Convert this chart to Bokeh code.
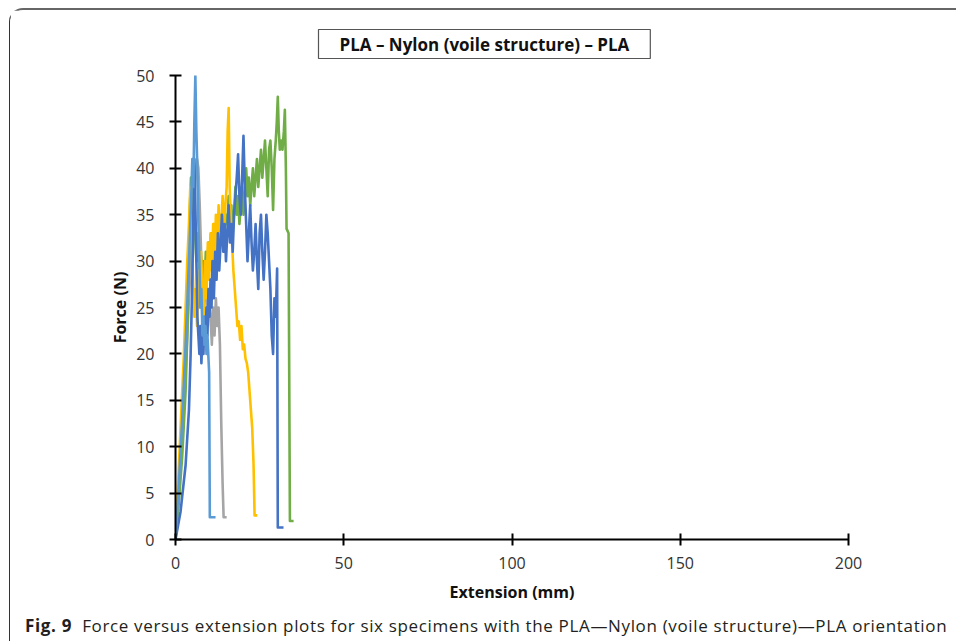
from bokeh.plotting import figure
from bokeh.models import Range1d, Div, FixedTicker
from bokeh.layouts import column
from bokeh.embed import file_html
from bokeh.resources import INLINE

title_text = "PLA \u2013 Nylon (voile structure) \u2013 PLA"
x_label = "Extension (mm)"
y_label = "Force (N)"
x_ticks = [0, 50, 100, 150, 200]
y_ticks = [0, 5, 10, 15, 20, 25, 30, 35, 40, 45, 50]

# Specimen 1 (light blue)
s1_x = [0, 1, 2, 3, 4, 4.6, 5.0, 5.3, 5.6, 5.9, 6.2, 6.5, 6.8, 7.1, 7.4, 7.7, 8.0, 8.3, 8.6, 8.9, 9.2, 9.5, 9.8, 10.0, 10.2, 11.9]
s1_y = [0, 6, 13, 21, 30, 36, 41, 38, 45, 50, 44, 40, 34, 30, 25, 27, 22, 24, 21, 23, 20, 22, 19.5, 18, 2.4, 2.4]

# Specimen 2 (gray)
s2_x = [0, 1, 2, 3, 4, 5, 5.6, 6.0, 6.4, 6.8, 7.2, 7.6, 8.0, 8.4, 8.8, 9.2, 9.6, 10.0, 10.4, 10.8, 11.2, 11.6, 12.0, 12.4, 12.8, 13.2, 13.6, 14.0, 14.3, 15.2]
s2_y = [0, 5, 11, 18, 26, 33, 37, 39, 41, 40, 36, 31, 28, 25, 29, 26, 23, 27, 24, 21, 25, 22, 26, 23, 25, 21, 12.5, 6, 2.4, 2.4]

# Specimen 3 (yellow)
s3_x = [0, 0.5, 1, 1.5, 2, 2.5, 3, 3.5, 4, 4.4, 4.8, 5.2, 5.6, 6, 6.4, 6.8, 7.2, 7.6, 8, 8.4, 8.8, 9.2, 9.6, 10, 10.4, 10.8,
        11.2, 11.6, 12, 12.4, 12.8, 13.2, 13.6, 14, 14.4, 14.8, 15.2, 15.5, 15.8, 16.1, 16.4, 16.8, 17.2, 17.6, 18, 18.4,
        18.8, 19.2, 19.6, 20, 20.4, 20.8, 21.2, 21.6, 22, 22.4, 22.8, 23.2, 23.5, 24.3]
s3_y = [0, 4, 8, 12, 16, 20, 25, 30, 34, 38, 33, 28, 24, 27, 23, 29, 25, 31, 27, 24, 30, 26, 32, 28, 33, 29,
        34, 30, 35, 31, 36, 32, 34, 37, 33, 36, 38, 44, 46.5, 38, 35, 32, 29, 27, 25, 23,
        23.5, 21.5, 23, 20.5, 21, 19.5, 19, 18, 16, 14, 12, 8, 2.6, 2.6]

# Specimen 4 (dark blue)
s4_x = [0, 1.5, 3, 4, 4.5, 5, 5.3, 5.6, 5.9, 6.2, 6.5, 6.8, 7.1, 7.4, 7.7, 8.0, 8.3, 8.6, 8.9, 9.2, 9.5, 9.8, 10.1, 10.4,
        10.7, 11, 11.4, 11.8, 12.2, 12.6, 13, 13.4, 13.8, 14.2, 14.6, 15, 15.4, 15.8, 16.2, 16.6, 17, 17.4, 17.8, 18.2,
        18.6, 19, 19.4, 19.8, 20.2, 20.6, 21, 21.4, 21.8, 22.2, 22.6, 23, 23.4, 23.8, 24.2, 24.6, 25, 25.4, 25.8, 26.2,
        26.6, 27, 27.4, 27.8, 28.2, 28.6, 29, 29.4, 29.8, 30.2, 30.4, 32.1]
s4_y = [0, 3, 8, 14, 20, 28, 35, 41, 36, 30, 24, 22, 20, 23, 19, 22, 20, 24, 21, 25, 22, 27, 24, 28,
        25, 30, 26, 31, 28, 33, 29, 32, 35, 31, 34, 30, 33, 36, 32, 34, 31, 35, 37, 39,
        41.5, 37, 35, 39, 43.5, 38, 34, 30, 33, 36, 32, 29, 31, 34, 30, 27, 33, 35, 31, 28,
        31, 35, 33, 30, 27, 22, 20, 26, 24, 29.2, 1.3, 1.3]

# Specimen 5 (green)
s5_x = [0, 1, 2, 3, 3.5, 4, 4.3, 4.6, 5, 5.4, 5.8, 6.2, 6.6, 7, 7.4, 7.8, 8.2, 8.6, 9, 9.4, 9.8, 10.2, 10.6, 11, 11.4,
        11.8, 12.2, 12.6, 13, 13.4, 13.8, 14.2, 14.6, 15, 15.4, 15.8, 16.2, 16.6, 17, 17.4, 17.8, 18.2, 18.6, 19, 19.4,
        19.8, 20.2, 20.6, 21, 21.4, 21.8, 22.2, 22.6, 23, 23.4, 23.8, 24.2, 24.6, 25, 25.4, 25.8, 26.2, 26.6, 27, 27.4,
        27.8, 28.2, 28.6, 29, 29.4, 29.8, 30.1, 30.4, 30.7, 31, 31.4, 31.8, 32.2, 32.5, 32.8, 33, 33.6, 34, 35.1]
s5_y = [0, 4, 9, 16, 22, 30, 36, 39, 35, 38, 33, 30, 33, 29, 31, 28, 30, 27, 31, 29, 32, 30, 33, 31, 34,
        31, 33, 30, 32, 35, 33, 36, 33, 35, 34, 37, 34, 36, 33, 35, 38, 35, 37, 34, 36,
        38, 35, 37, 40, 37, 39, 36, 38, 40, 37, 39, 41, 38, 40, 42, 39, 41, 43, 40, 37,
        42, 43, 40, 35.5, 41, 43, 45, 47.7, 44, 42, 43, 42, 44, 46.3, 40, 33.5, 33, 2, 2]

series = [
    (s2_x, s2_y, "#A5A5A5"),
    (s5_x, s5_y, "#70AD47"),
    (s3_x, s3_y, "#FFC000"),
    (s4_x, s4_y, "#4472C4"),
    (s1_x, s1_y, "#5B9BD5"),
]

FONT = "Open Sans"

p = figure(width=946, height=604, x_range=Range1d(0, 200), y_range=Range1d(0, 50),
           output_backend="svg", toolbar_location=None,
           min_border_left=165, min_border_right=108, min_border_top=65, min_border_bottom=75,
           title=title_text)
p.outline_line_color = None
p.grid.visible = False
p.background_fill_color = "white"
p.border_fill_color = "white"

for xs, ys, c in series:
    p.line(xs, ys, line_color=c, line_width=2.6, line_join="round")

for ax in (p.xaxis[0], p.yaxis[0]):
    ax.axis_line_color = "black"
    ax.axis_line_width = 2
    ax.major_tick_line_color = "black"
    ax.major_tick_line_width = 2
    ax.major_tick_in = 6
    ax.major_tick_out = 6
    ax.minor_tick_line_color = None
    ax.major_label_text_font = FONT
    ax.major_label_text_font_size = "16px"
    ax.major_label_text_color = "#333333"
    ax.axis_label_text_font = FONT
    ax.axis_label_text_font_style = "bold"
    ax.axis_label_text_font_size = "16px"
    ax.axis_label_text_color = "#111111"

p.xaxis.ticker = FixedTicker(ticks=x_ticks)
p.yaxis.ticker = FixedTicker(ticks=y_ticks)
p.xaxis.axis_label = x_label
p.yaxis.axis_label = y_label
p.xaxis.major_label_standoff = 11
p.yaxis.major_label_standoff = 15
p.xaxis.axis_label_standoff = 9
p.yaxis.axis_label_standoff = 2

t = p.title
t.text_font = FONT
t.text_font_style = "bold"
t.text_font_size = "17px"
t.text_color = "#111111"
t.align = "left"
t.offset = 143
t.standoff = 34
t.border_line_color = "#555555"
t.border_line_width = 1.2
t.background_fill_color = "white"
t.padding = dict(left=21, right=21, top=3, bottom=3)

caption = Div(
    text='<span style="font-weight:bold">Fig. 9</span>&nbsp;&nbsp;Force versus extension plots for six specimens '
         'with the PLA\u2014Nylon (voile structure)\u2014PLA orientation',
    width=946, height=26,
    styles={"font-family": "Open Sans", "font-size": "17px", "letter-spacing": "0.65px", "color": "#231f20",
            "padding-left": "10px", "white-space": "nowrap", "margin-top": "0px"},
)

layout = column(p, caption, styles={
    "border-top": "2px solid #666666",
    "border-left": "1.5px solid #333333",
    "border-top-left-radius": "14px",
    "margin-left": "9px",
    "margin-top": "8px",
    "background-color": "white",
})

open("out.html", "w").write(file_html(layout, INLINE))
